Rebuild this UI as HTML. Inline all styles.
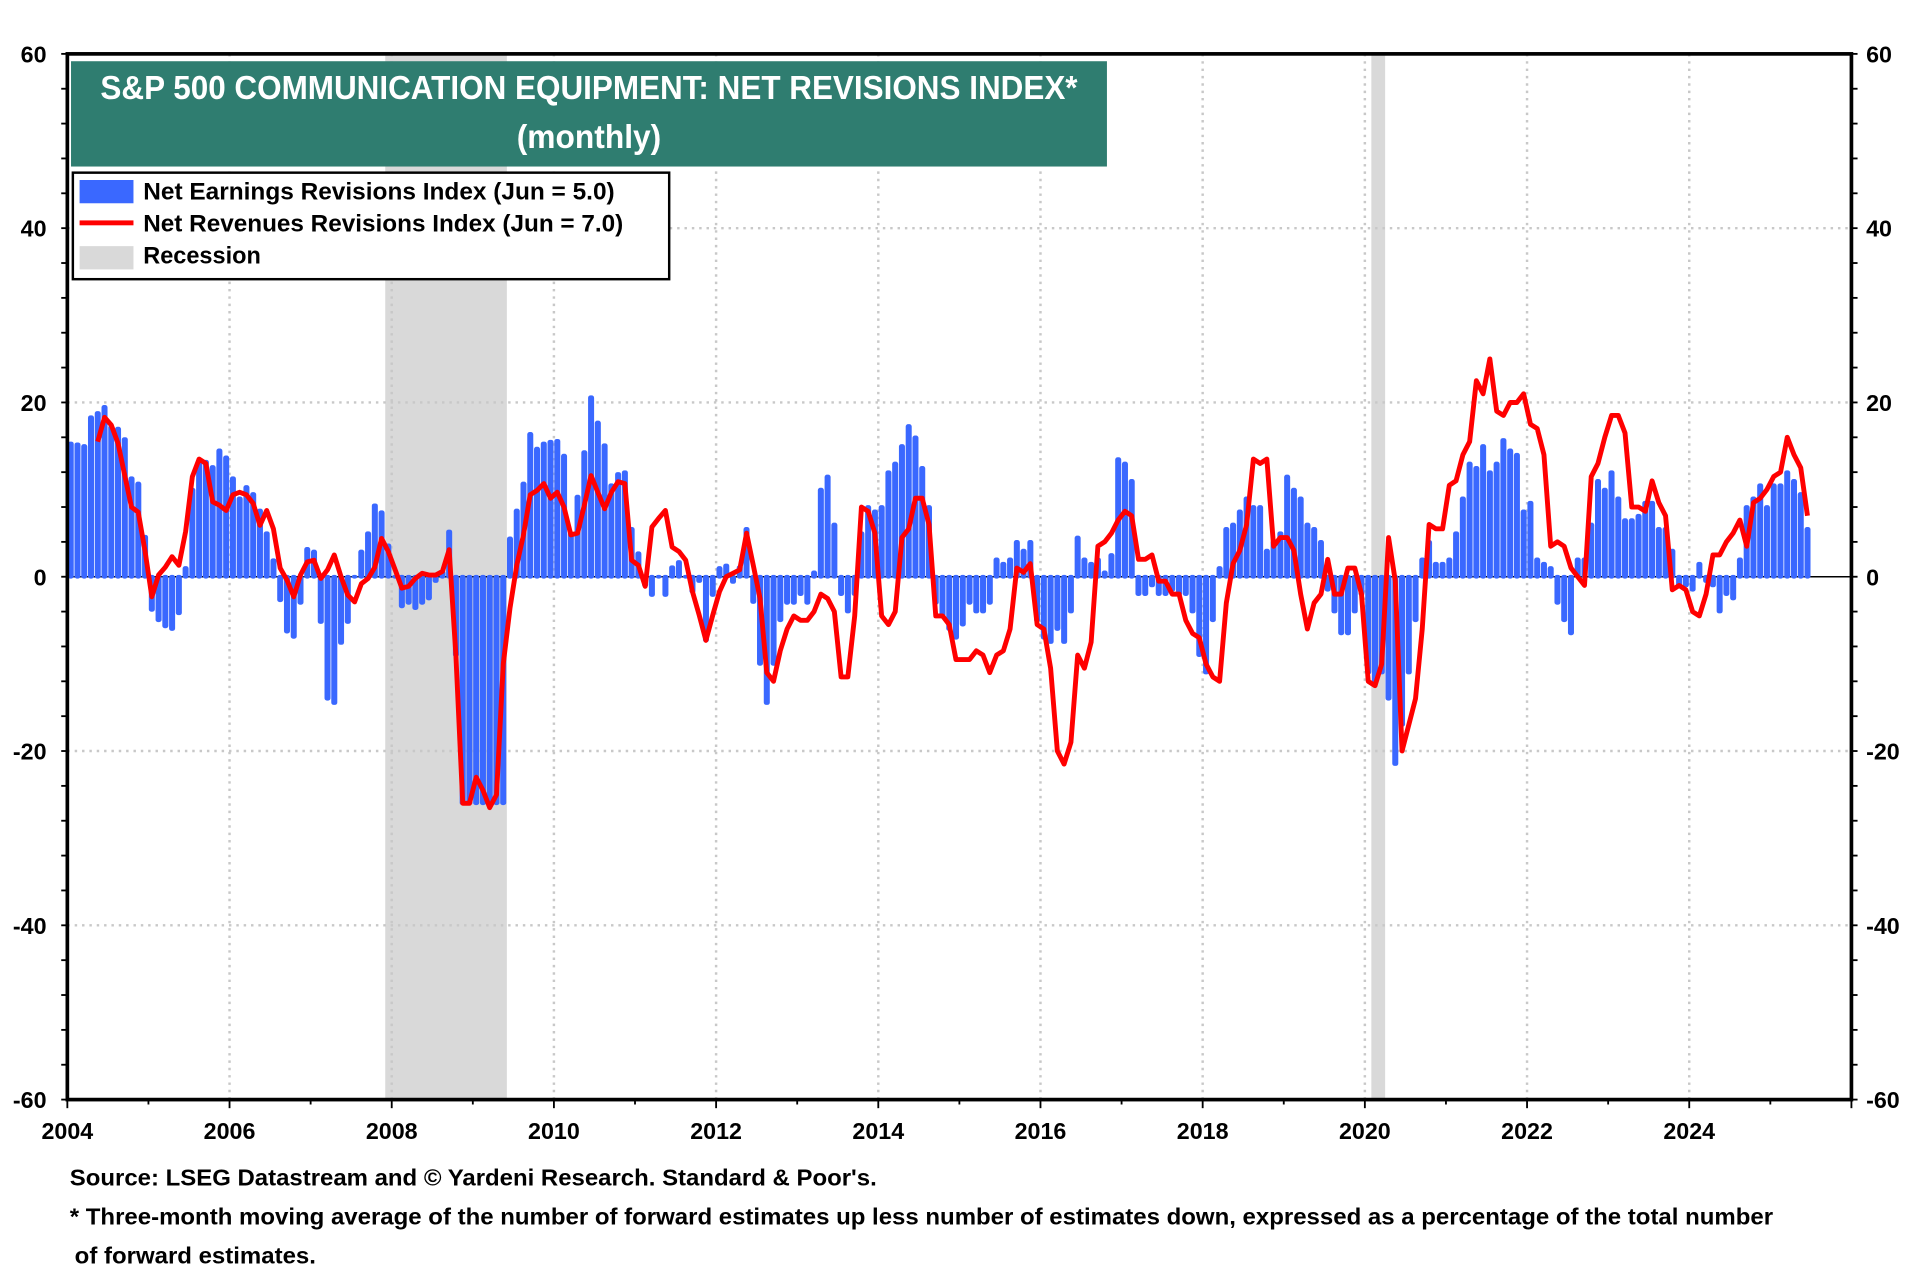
<!DOCTYPE html>
<html><head><meta charset="utf-8">
<style>
html,body{margin:0;padding:0;background:#fff;}
svg{display:block;}
text{font-family:"Liberation Sans Narrow","Liberation Sans",sans-serif;font-weight:bold;}
</style></head>
<body>
<svg id="chart" width="1920" height="1280" viewBox="0 0 1568 1045.33" xmlns="http://www.w3.org/2000/svg">
<g id="recessions"></g>
<g id="grid"></g>
<g id="bars"></g>
<g id="line"></g>
<g id="axes"></g>
<rect x="58" y="50" width="846" height="86" fill="#2f7d70"/>
<text x="481" y="81" fill="#fff" font-size="27" text-anchor="middle" textLength="798" lengthAdjust="spacingAndGlyphs">S&amp;P 500 COMMUNICATION EQUIPMENT: NET REVISIONS INDEX*</text>
<text x="481" y="121" fill="#fff" font-size="27" text-anchor="middle" textLength="118" lengthAdjust="spacingAndGlyphs">(monthly)</text>
<g>
<rect x="59.5" y="141" width="487" height="87" fill="#fff" stroke="#000" stroke-width="2"/>
<rect x="65" y="147" width="44" height="19" fill="#3a68ff"/>
<text x="117" y="163" font-size="20" textLength="385" lengthAdjust="spacingAndGlyphs">Net Earnings Revisions Index (Jun  = 5.0)</text>
<rect x="65" y="180" width="44" height="4" fill="#ff0000"/>
<text x="117" y="189" font-size="20" textLength="392" lengthAdjust="spacingAndGlyphs">Net Revenues Revisions Index (Jun  = 7.0)</text>
<rect x="65" y="201" width="44" height="19" fill="#d9d9d9"/>
<text x="117" y="215" font-size="20" textLength="96" lengthAdjust="spacingAndGlyphs">Recession</text>
</g>
<text x="57" y="968" font-size="19" textLength="659" lengthAdjust="spacingAndGlyphs">Source: LSEG Datastream and © Yardeni Research. Standard &amp; Poor's.</text>
<text x="57" y="1000" font-size="19" textLength="1391" lengthAdjust="spacingAndGlyphs">* Three-month moving average of the number of forward estimates up less number of estimates down, expressed as a percentage of the total number</text>
<text x="61" y="1032" font-size="19" textLength="197" lengthAdjust="spacingAndGlyphs">of forward estimates.</text>
</svg>
<script>
const earnings = [
15.3,15.2,15,18.3,18.8,19.5,17.2,17,15.8,11.3,10.7,4.6,
-3.8,-5,-5.7,-6,-4.2,1,10,13,13.2,12.6,14.5,13.7,
11.3,9,10.3,9.5,7.6,5,1.9,-2.7,-6.3,-6.9,-3,3.2,
2.9,-5.2,-14,-14.5,-7.6,-5.2,0,2.9,5,8.2,7.4,3.6,
0,-3.4,-3,-3.6,-3,-2.5,-0.5,0.5,5.2,-9,-26,-26,
-26,-26,-26,-26,-26,4.4,7.6,10.7,16.4,14.7,15.3,15.5,
15.6,13.9,5,9.2,14.3,20.6,17.7,15.1,10.5,11.8,12,5.5,
2.7,-1,-2.1,0,-2.1,1.1,1.7,0,-1.7,-0.5,-7.3,-2.1,
1,1.3,-0.6,1.1,5.5,-2.9,-10,-14.5,-10,-5,-3,-3,
-2,-3,0.5,10,11.5,6,-2,-4,-2,5,8,7.5,
8,12,13,15,17.3,16,12.5,8,-3,-4.5,-6,-7,
-5.5,-3,-4,-4,-3,2,1.5,2,4,3,4,-5,
-7,-7.5,-6,-7.5,-4,4.5,2,1.5,2,0.5,2.5,13.5,
13,11,-2,-2,-1,-2,-2,-1.5,-2,-2,-4,-9,
-11,-5,1,5.5,6,7.5,9,8,8,3,4,5,
11.5,10,9,6,5.5,4,-1.5,-4,-6.5,-6.5,-4,-2,
-11,-12,-11,-14,-21.5,-17,-11,-5,2,4,1.5,1.5,
2,5,9,13,12.5,15,12,13,15.7,14.5,14,7.5,
8.5,2,1.5,1,-3,-5,-6.5,2,2,6,11,10,
12,9,6.5,6.5,7,8.5,8.5,5.5,5.5,3,-1,-1,
-1.5,1.5,-0.5,-1,-4,-2,-2.5,2,8,9,10.5,8,
10.5,10.5,12,11,9.5,5.5
];
const revenuesStart = 4;
const revenues = [
15.5,18.3,17.4,15.3,11.6,8,7.4,2.9,
-2.3,0.2,1.1,2.3,1.3,5.2,11.5,13.5,13,8.6,8.2,7.6,
9.4,9.7,9.4,8.4,5.9,7.6,5.5,1,-0.4,-2.3,0.2,1.7,
1.9,-0.2,0.8,2.5,0,-2.1,-2.9,-0.8,-0.2,1.1,4.4,2.9,
0.8,-1.3,-1.1,-0.2,0.4,0.2,0.2,0.6,3.1,-9,-26,-26,
-23,-24.5,-26.5,-25,-10,-3.6,1.3,4.8,9.4,9.9,10.7,9,
9.7,8,4.8,5,8.2,11.6,9.7,7.8,9.7,10.9,10.7,1.9,
1.3,-1.1,5.7,6.7,7.6,3.4,2.9,1.9,-1.7,-4.4,-7.3,-4.4,
-1.7,0,0.4,0.8,5,1.3,-2.5,
-11,-12,-8.5,-6,-4.5,-5,-5,-4,-2,-2.5,-4,-11.5,-11.5,-4.5,8,7.5,5,-4.5,-5.5,-4,
4.5,5.5,9,9,6,-4.5,-4.5,-5.5,-9.5,-9.5,-9.5,-8.5,-9,-11,-9,-8.5,-6,1,0.5,1.5,
-5.5,-6,-10.5,-20,-21.5,-19,-9,-10.5,-7.5,3.5,4,5,6.5,7.5,7,2,2,2.5,-0.5,-0.5,
-2,-2,-5,-6.5,-7,-10,-11.5,-12,-3,1.5,3,6,13.5,13,13.5,3.5,4.5,4.5,3,-2,
-6,-3,-2,2,-2,-2,1,1,-2,-12,-12.5,-10,4.5,-0.5,-20,-17,-14,-6,6,5.5,
5.5,10.5,11,14,15.5,22.5,21,25,19,18.5,20,20,21,17.5,17,14,3.5,4,3.5,1,
0,-1,11.5,13,16,18.5,18.5,16.5,8,8,7.5,11,8.5,7,-1.5,-1,-1.5,-4,-4.5,-2,
2.5,2.5,4,5,6.5,3.5,8.5,9,10,11.5,12,16,14,12.5,7
];
const yTicks = [60,40,20,0,-20,-40,-60];
const xYears = [2004,2006,2008,2010,2012,2014,2016,2018,2020,2022,2024];
const recessionStarts = [2007.92,2020.08];
const recessionEnds = [2009.42,2020.25];

const NS='http://www.w3.org/2000/svg';
const L=55,R=1512,T=44,B=898,Y0=2004,Y1=2026;
const yS=v=>T+(60-v)*(B-T)/120;
const xS=yr=>L+(yr-Y0)*(R-L)/(Y1-Y0);
const mW=(R-L)/((Y1-Y0)*12);
const xM=i=>xS(Y0+i/12)+mW/2;
function mk(tag,attrs,parent){const e=document.createElementNS(NS,tag);for(const k in attrs)e.setAttribute(k,attrs[k]);parent.appendChild(e);return e;}

const gRec=document.getElementById('recessions');
recessionStarts.forEach((s,i)=>{
  const r=mk('rect',{x:xS(s),y:T,width:xS(recessionEnds[i])-xS(s),height:B-T,fill:'#d9d9d9'},gRec);
  
  
});

const gGrid=document.getElementById('grid');
yTicks.forEach(v=>{ if(v!==60&&v!==-60&&v!==0){
  const l=mk('line',{x1:L,x2:R,y1:yS(v),y2:yS(v),stroke:'#c8c8c8','stroke-width':2,'stroke-dasharray':'2,4'},gGrid);
  
  
}});
xYears.forEach(y=>{ if(y!==2004){
  const l=mk('line',{x1:xS(y),x2:xS(y),y1:T,y2:B,stroke:'#c8c8c8','stroke-width':2,'stroke-dasharray':'2,4'},gGrid);
  
  
}});
const zl=mk('line',{x1:L,x2:R,y1:yS(0),y2:yS(0),stroke:'#000','stroke-width':1.2},gGrid);



const gBars=document.getElementById('bars');
earnings.forEach((v,i)=>{
  const x=xS(Y0+i/12);
  const y=Math.min(yS(v),yS(0)), h=Math.abs(yS(v)-yS(0));
  const b=mk('rect',{x:x+0.3,y:y-1.5,width:mW-0.6,height:h+3,rx:2,fill:'#3a68ff'},gBars);
  
  
});

const gLine=document.getElementById('line');
const pts=revenues.map((v,i)=>xM(i+revenuesStart).toFixed(1)+','+yS(v).toFixed(1)).join(' ');
const pl=mk('polyline',{points:pts,fill:'none',stroke:'#ff0000','stroke-width':4,'stroke-linejoin':'round'},gLine);



const gAx=document.getElementById('axes');
const fr=mk('rect',{x:L,y:T,width:R-L,height:B-T,fill:'none',stroke:'#000','stroke-width':3},gAx);


for(let v=-60;v<=60;v+=4){
  mk('line',{x1:L-5,x2:L,y1:yS(v),y2:yS(v),stroke:'#000','stroke-width':1.5},gAx);
  mk('line',{x1:R,x2:R+5,y1:yS(v),y2:yS(v),stroke:'#000','stroke-width':1.5},gAx);
}
yTicks.forEach(v=>{
  const t1=mk('text',{x:38,y:yS(v)+7,'font-size':19,'text-anchor':'end'},gAx);
  t1.textContent=String(v);
  
  
  const t2=mk('text',{x:1524,y:yS(v)+7,'font-size':19,'text-anchor':'start'},gAx);
  t2.textContent=String(v);
  
  
});
for(let y=Y0;y<=Y1;y++){
  mk('line',{x1:xS(y),x2:xS(y),y1:B,y2:B+(y%2===0?7:4),stroke:'#000','stroke-width':1.5},gAx);
}
xYears.forEach(y=>{
  const t=mk('text',{x:xS(y),y:930,'font-size':19,'text-anchor':'middle'},gAx);
  t.textContent=String(y);
  
  
});
</script>
</body></html>
